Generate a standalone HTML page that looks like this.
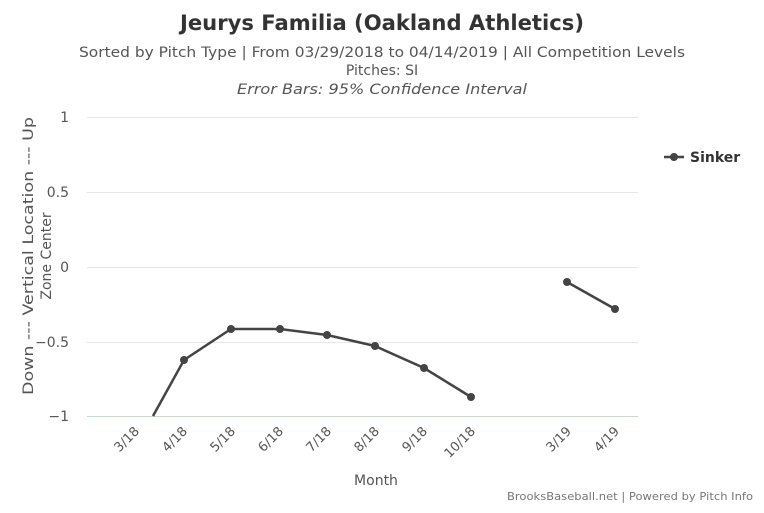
<!DOCTYPE html>
<html><head><meta charset="utf-8"><style>
body{margin:0;background:#fff;width:764px;height:509px;overflow:hidden;font-family:"DejaVu Sans",sans-serif}
</style></head><body>
<svg width="764" height="509" xmlns="http://www.w3.org/2000/svg" font-family="DejaVu Sans, sans-serif">
<text x="382" y="30" text-anchor="middle" font-size="21" font-weight="bold" fill="#333" textLength="404" lengthAdjust="spacingAndGlyphs">Jeurys Familia (Oakland Athletics)</text>
<text x="382" y="57" text-anchor="middle" font-size="14" fill="#555" textLength="606" lengthAdjust="spacingAndGlyphs">Sorted by Pitch Type | From 03/29/2018 to 04/14/2019 | All Competition Levels</text>
<text x="382" y="75" text-anchor="middle" font-size="14" fill="#555">Pitches: SI</text>
<text x="382" y="94" text-anchor="middle" font-size="14" font-style="italic" fill="#555" textLength="290" lengthAdjust="spacingAndGlyphs">Error Bars: 95% Confidence Interval</text>
<g stroke="#e6e6e6" stroke-width="1">
<line x1="87" y1="117.5" x2="638" y2="117.5"/>
<line x1="87" y1="192.5" x2="638" y2="192.5"/>
<line x1="87" y1="267.5" x2="638" y2="267.5"/>
<line x1="87" y1="342.5" x2="638" y2="342.5"/>
</g>
<line x1="87" y1="416.5" x2="638" y2="416.5" stroke="#c0e0c8" stroke-width="1"/>
<g font-size="14" fill="#555" text-anchor="end">
<text x="69" y="122">1</text>
<text x="69" y="197">0.5</text>
<text x="69" y="272">0</text>
<text x="69" y="347">−0.5</text>
<text x="69" y="421">−1</text>
</g>
<text transform="translate(33,256) rotate(-90)" text-anchor="middle" font-size="14" fill="#555" textLength="278" lengthAdjust="spacingAndGlyphs">Down --- Vertical Location --- Up</text>
<text transform="translate(51,256) rotate(-90)" text-anchor="middle" font-size="14" fill="#555">Zone Center</text>
<g font-size="13" fill="#555" text-anchor="end">
<text transform="translate(140,432) rotate(-45)">3/18</text>
<text transform="translate(188,432) rotate(-45)">4/18</text>
<text transform="translate(236,432) rotate(-45)">5/18</text>
<text transform="translate(284,432) rotate(-45)">6/18</text>
<text transform="translate(332,432) rotate(-45)">7/18</text>
<text transform="translate(380,432) rotate(-45)">8/18</text>
<text transform="translate(428,432) rotate(-45)">9/18</text>
<text transform="translate(476,432) rotate(-45)">10/18</text>
<text transform="translate(572,432) rotate(-45)">3/19</text>
<text transform="translate(620,432) rotate(-45)">4/19</text>
</g>
<text x="376" y="485" text-anchor="middle" font-size="14" fill="#555">Month</text>
<g stroke="#444" stroke-width="2.5" fill="none">
<polyline points="153,416 184,360 231,329 280,329 327,335 375,346 424,368 471,397"/>
<polyline points="567,282 615,309"/>
</g>
<g fill="#444">
<circle cx="184" cy="360" r="4"/><circle cx="231" cy="329" r="4"/><circle cx="280" cy="329" r="4"/>
<circle cx="327" cy="335" r="4"/><circle cx="375" cy="346" r="4"/><circle cx="424" cy="368" r="4"/>
<circle cx="471" cy="397" r="4"/><circle cx="567" cy="282" r="4"/><circle cx="615" cy="309" r="4"/>
</g>
<line x1="664" y1="157" x2="684" y2="157" stroke="#444" stroke-width="2.5"/>
<circle cx="674" cy="157" r="4" fill="#444"/>
<text x="690" y="162" font-size="14" font-weight="bold" fill="#333">Sinker</text>
<text x="753" y="500" text-anchor="end" font-size="11" fill="#777" textLength="246" lengthAdjust="spacingAndGlyphs">BrooksBaseball.net | Powered by Pitch Info</text>
</svg>
</body></html>
